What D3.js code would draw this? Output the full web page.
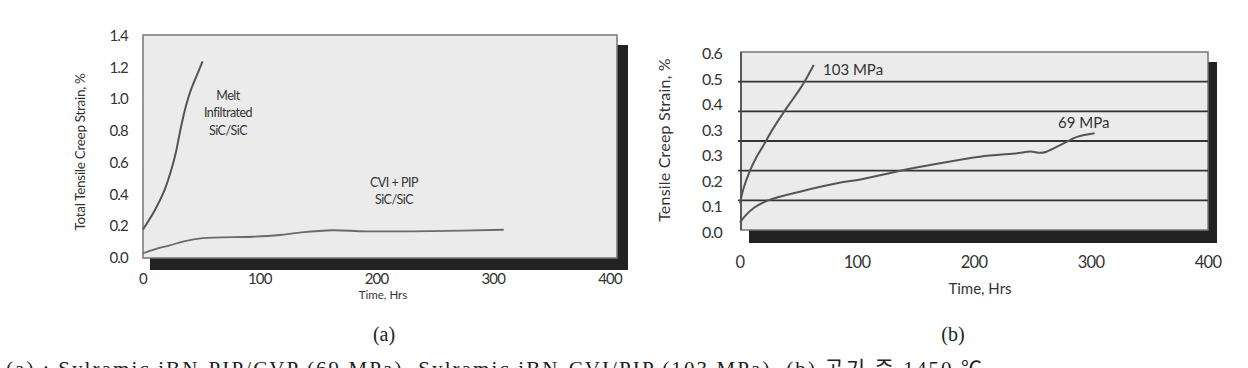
<!DOCTYPE html>
<html>
<head>
<meta charset="utf-8">
<script src="https://cdn.jsdelivr.net/npm/d3@7"></script>
<style>
  body { margin: 0; background: #fff; }
  svg text { font-family: Lato, "DejaVu Sans", sans-serif; fill: #333; }
  svg text.serif { font-family: "Liberation Serif", "Noto Sans CJK KR", serif; fill: #222; }
</style>
</head>
<body>
<svg id="chart" width="1248" height="368"></svg>
<script>
// ---- data ----
// (a) total tensile creep strain
const meltTime = [0, 10, 18, 24, 28, 31, 34, 37, 41, 46, 51];
const meltStrain = [0.18, 0.30, 0.42, 0.55, 0.66, 0.77, 0.875, 0.965, 1.06, 1.15, 1.24];
const cviTime = [0, 10, 23, 35, 51, 94, 117, 134, 162, 191, 248, 309];
const cviStrain = [0.03, 0.055, 0.08, 0.105, 0.125, 0.134, 0.145, 0.16, 0.175, 0.168, 0.17, 0.178];
const aYTicks = [0, 0.2, 0.4, 0.6, 0.8, 1.0, 1.2, 1.4];
const aXTicks = [0, 100, 200, 300, 400];

// (b) tensile creep strain
const mpa103Time = [0, 3, 8, 14, 20, 28, 37, 45, 52, 58, 63];
const mpa103Strain = [0.09, 0.14, 0.195, 0.245, 0.285, 0.34, 0.395, 0.44, 0.48, 0.52, 0.556];
const mpa69Time = [0, 5, 12, 24, 52, 86, 103, 137, 171, 205, 240, 248, 257, 262, 277, 288, 303];
const mpa69Strain = [0.025, 0.05, 0.075, 0.10, 0.13, 0.16, 0.17, 0.20, 0.225, 0.247, 0.26, 0.265, 0.26, 0.264, 0.293, 0.314, 0.326];
const bYTickLabels = ["0.0", "0.1", "0.2", "0.3", "0.3", "0.4", "0.5", "0.6"];
const bGrid = [0.1, 0.2, 0.3, 0.4, 0.5];
const bXTicks = [0, 100, 200, 300, 400];

const caption = "(a) : Sylramic iBN-PIP/CVP (69 MPa), Sylramic iBN-CVI/PIP (103 MPa), (b) 공기 중 1450 ℃";

const svg = d3.select("#chart");
const curveColor = "#555";

// ---------- panel (a) ----------
const ax = d3.scaleLinear().domain([0, 400]).range([143, 610]);
const ay = d3.scaleLinear().domain([0, 1.4]).range([258, 36]);
const ga = svg.append("g");

// shadow then frame
ga.append("rect").attr("x", 150).attr("y", 45).attr("width", 478).attr("height", 225).attr("fill", "#222");
ga.append("rect").attr("x", 143).attr("y", 35).attr("width", 474).attr("height", 223)
  .attr("fill", "#ebebeb").attr("stroke", "#777").attr("stroke-width", 1.5);

ga.selectAll(".ytick").data(aYTicks).enter().append("text")
  .attr("x", 128).attr("y", d => ay(d) + 5)
  .attr("text-anchor", "end").attr("font-size", 15).attr("letter-spacing", -0.8)
  .text(d => d3.format(".1f")(d));

ga.selectAll(".xtick").data(aXTicks).enter().append("text")
  .attr("x", d => ax(d)).attr("y", 284)
  .attr("text-anchor", "middle").attr("font-size", 15).attr("letter-spacing", -0.8)
  .text(d => d);

ga.append("text").attr("transform", "translate(85,152) rotate(-90)")
  .attr("text-anchor", "middle").attr("font-size", 13.5).attr("letter-spacing", -0.3)
  .text("Total Tensile Creep Strain, %");
ga.append("text").attr("x", 383).attr("y", 299).attr("text-anchor", "middle")
  .attr("font-size", 11.5).text("Time, Hrs");

const lineA = d3.line().x(d => ax(d[0])).y(d => ay(d[1])).curve(d3.curveCatmullRom);
ga.append("path").datum(d3.zip(meltTime, meltStrain)).attr("d", lineA)
  .attr("fill", "none").attr("stroke", curveColor).attr("stroke-width", 2);
ga.append("path").datum(d3.zip(cviTime, cviStrain)).attr("d", lineA)
  .attr("fill", "none").attr("stroke", "#6a6a6a").attr("stroke-width", 1.8);

[["Melt", 100], ["Infiltrated", 117], ["SiC/SiC", 135]].forEach(t => {
  ga.append("text").attr("x", 228).attr("y", t[1]).attr("text-anchor", "middle")
    .attr("font-size", 12.5).attr("letter-spacing", -0.5).text(t[0]);
});
[["CVI + PIP", 187], ["SiC/SiC", 204]].forEach(t => {
  ga.append("text").attr("x", 394).attr("y", t[1]).attr("text-anchor", "middle")
    .attr("font-size", 12.5).attr("letter-spacing", -0.5).text(t[0]);
});

// ---------- panel (b) ----------
const bx = d3.scaleLinear().domain([0, 400]).range([740, 1208]);
const by = d3.scaleLinear().domain([0, 0.6]).range([230, 52]);
const byLabel = d3.scalePoint().domain(d3.range(bYTickLabels.length)).range([232, 53]);
const gb = svg.append("g");

gb.append("rect").attr("x", 749).attr("y", 62).attr("width", 468).attr("height", 181).attr("fill", "#222");
gb.append("rect").attr("x", 741).attr("y", 52).attr("width", 467).attr("height", 178)
  .attr("fill", "#ebebeb").attr("stroke", "#777").attr("stroke-width", 1.5);

gb.selectAll(".grid").data(bGrid).enter().append("line")
  .attr("x1", 738).attr("x2", 1208)
  .attr("y1", d => by(d)).attr("y2", d => by(d))
  .attr("stroke", "#333").attr("stroke-width", 1.8);
gb.append("line").attr("x1", 741).attr("x2", 741).attr("y1", 52).attr("y2", 230)
  .attr("stroke", "#444").attr("stroke-width", 1.5);

gb.selectAll(".ytick").data(bYTickLabels).enter().append("text")
  .attr("x", 722).attr("y", (d, i) => byLabel(i) + 6)
  .attr("text-anchor", "end").attr("font-size", 16).attr("letter-spacing", -0.8)
  .text(d => d);

gb.selectAll(".xtick").data(bXTicks).enter().append("text")
  .attr("x", d => bx(d)).attr("y", 268)
  .attr("text-anchor", "middle").attr("font-size", 16.5).attr("letter-spacing", -0.8)
  .text(d => d);

gb.append("text").attr("transform", "translate(670,140) rotate(-90)")
  .attr("text-anchor", "middle").attr("font-size", 16).attr("letter-spacing", 0.2)
  .text("Tensile Creep Strain, %");
gb.append("text").attr("x", 980).attr("y", 294).attr("text-anchor", "middle")
  .attr("font-size", 15).text("Time, Hrs");

const lineB = d3.line().x(d => bx(d[0])).y(d => by(d[1])).curve(d3.curveCatmullRom);
gb.append("path").datum(d3.zip(mpa103Time, mpa103Strain)).attr("d", lineB)
  .attr("fill", "none").attr("stroke", curveColor).attr("stroke-width", 2);
gb.append("path").datum(d3.zip(mpa69Time, mpa69Strain)).attr("d", lineB)
  .attr("fill", "none").attr("stroke", curveColor).attr("stroke-width", 2);

gb.append("text").attr("x", 823).attr("y", 75).attr("font-size", 15).text("103 MPa");
gb.append("text").attr("x", 1058).attr("y", 128).attr("font-size", 15).text("69 MPa");

// ---------- panel labels and caption ----------
svg.append("text").attr("class", "serif").attr("x", 384).attr("y", 341)
  .attr("text-anchor", "middle").attr("font-size", 20).text("(a)");
svg.append("text").attr("class", "serif").attr("x", 953).attr("y", 341)
  .attr("text-anchor", "middle").attr("font-size", 20).text("(b)");
// caption runs off the bottom edge, as in the reference
svg.append("text").attr("class", "serif").attr("x", 6).attr("y", 376)
  .attr("font-size", 21).attr("textLength", 976).attr("lengthAdjust", "spacing")
  .text(caption);
</script>
</body>
</html>
